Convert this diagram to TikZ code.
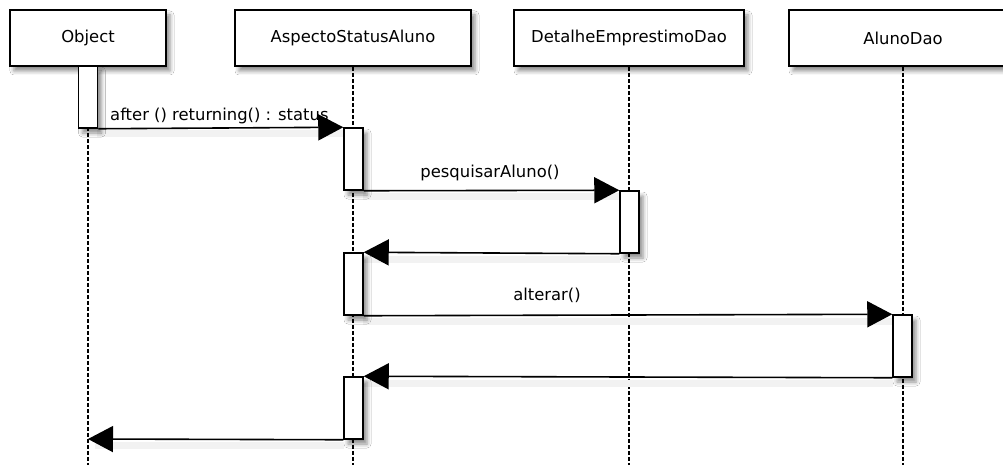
\documentclass[tikz,border=0pt]{standalone}
\usepackage{fontspec}
\setmainfont{DejaVu Sans}
\usetikzlibrary{arrows.meta,shadows.blur}
\begin{document}
\begin{tikzpicture}[x=1pt,y=-1pt,
  font=\fontsize{16.4}{19}\selectfont,
  boxshadow/.style={blur shadow={shadow xshift=4pt,shadow yshift=-5pt,shadow blur radius=4pt,shadow opacity=45}},
  head/.style={draw,line width=1.6pt,fill=white,minimum height=56pt,inner sep=0pt,boxshadow},
  act/.style={draw,line width=1.5pt,fill=white,minimum width=19pt,minimum height=62pt,inner sep=0pt,boxshadow},
  life/.style={line width=1.3pt,dash pattern=on 4pt off 2pt},
  msg/.style={line width=1.6pt,-{Triangle[length=25pt,width=26pt]}},
  msgshade/.style={line width=7pt,draw=black!5},
  lbl/.style={inner sep=0pt,anchor=base}]
\useasboundingbox (0,0) rectangle (1003,465);
\clip (0,0) rectangle (1003,465);
\fill[white] (0,0) rectangle (1003,465);

% participants
\node[head,minimum width=156pt] (obj) at (88,38) {Object};
\node[head,minimum width=236pt] (asp) at (353,38) {AspectoStatusAluno};
\node[head,minimum width=230pt] (det) at (629,38) {DetalheEmprestimoDao};
\node[head,minimum width=228pt] (alu) at (903,38) {AlunoDao};

% lifelines
\coordinate (objend) at (88,465);
\coordinate (aspend) at (353,465);
\coordinate (detend) at (629,465);
\coordinate (aluend) at (903,465);
\draw[life] (obj.south) -- (objend);
\draw[life] (asp.south) -- (aspend);
\draw[life] (det.south) -- (detend);
\draw[life] (alu.south) -- (aluend);

% soft shading under the messages
\coordinate (objret) at (88,439);
\draw[msgshade] (97,134) -- (344,134);
\draw[msgshade] (363,196) -- (620,196);
\draw[msgshade] (363,259) -- (620,259);
\draw[msgshade] (363,321) -- (893,321);
\draw[msgshade] (363,383) -- (893,383);
\draw[msgshade] (95,445) -- (344,445);

% activations
\node[act] (a0) at (88,97) {};
\node[act] (a1) at (353.5,159) {};
\node[act] (a2) at (629.5,222) {};
\node[act] (a3) at (353.5,284) {};
\node[act] (a4) at (902.5,346) {};
\node[act] (a5) at (353.5,408) {};

% messages
\draw[msg] (a0.south east) -- (a1.north west);
\draw[msg] (a1.south east) -- (a2.north west);
\draw[msg] (a2.south west) -- (a3.north east);
\draw[msg] (a3.south east) -- (a4.north west);
\draw[msg] (a4.south west) -- (a5.north east);
\draw[msg] (a5.south west) -- (objret);

% labels
\node[lbl,anchor=base west] (l1) at (110,121) {after () returning() : status};
\node[lbl] (l2) at (490,178) {pesquisarAluno()};
\node[lbl] (l3) at (547,300) {alterar()};
\end{tikzpicture}
\end{document}
